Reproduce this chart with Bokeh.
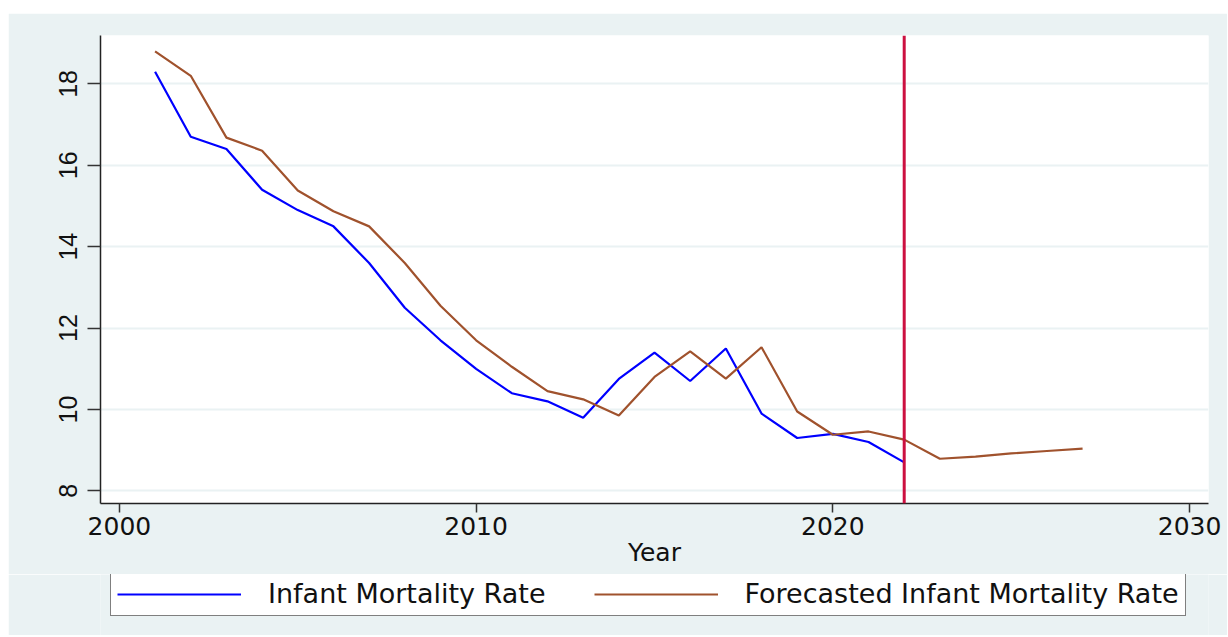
from bokeh.plotting import figure
from bokeh.layouts import column
from bokeh.models import Legend, LegendItem, Span, FixedTicker
from bokeh.embed import file_html
from bokeh.resources import INLINE

years_actual = list(range(2001, 2023))
imr_actual = [18.3, 16.7, 16.4, 15.4, 14.9, 14.5, 13.6, 12.5, 11.7, 11.0, 10.4,
              10.2, 9.8, 10.75, 11.4, 10.7, 11.5, 9.9, 9.3, 9.4, 9.2, 8.7]

years_fc = list(range(2001, 2028))
imr_fc = [18.8, 18.2, 16.68, 16.36, 15.38, 14.87, 14.5, 13.6, 12.55, 11.7, 11.05,
          10.45, 10.25, 9.85, 10.8, 11.43, 10.76, 11.53, 9.95, 9.38, 9.46, 9.26,
          8.79, 8.84, 8.92, 8.98, 9.04]

x_ticks = [2000, 2010, 2020, 2030]
y_ticks = [8, 10, 12, 14, 16, 18]
cutoff_year = 2022
labels = ["Infant Mortality Rate", "Forecasted Infant Mortality Rate"]
colors = ["#0000FF", "#A0522D"]

BG = "#EAF2F3"
FONT = "DejaVu Sans"
W = 1219

p = figure(width=W, height=561, output_backend="svg", toolbar_location=None,
           x_range=(1999.47, 2030.53), y_range=(7.69, 19.19),
           min_border_left=92, min_border_top=22, min_border_right=19,
           min_border_bottom=71,
           background_fill_color="white", border_fill_color=BG,
           outline_line_color=None)

p.xgrid.grid_line_color = None
p.ygrid.grid_line_color = BG
p.ygrid.grid_line_width = 2
p.ygrid.ticker = FixedTicker(ticks=y_ticks)

p.xaxis.ticker = FixedTicker(ticks=x_ticks)
p.yaxis.ticker = FixedTicker(ticks=y_ticks)
for ax in (p.xaxis[0], p.yaxis[0]):
    ax.axis_line_color = "#222222"
    ax.axis_line_width = 1.5
    ax.major_tick_line_color = "#333333"
    ax.major_tick_line_width = 1.5
    ax.minor_tick_line_color = None
    ax.major_tick_in = 0
    ax.major_label_text_color = "#111111"
p.xaxis.major_label_text_font = FONT
p.xaxis.major_label_text_font_size = "25px"
p.yaxis.major_label_text_font = "Liberation Sans"
p.yaxis.major_label_text_font_size = "25px"
p.xaxis.major_tick_out = 9
p.yaxis.major_tick_out = 13
p.yaxis.major_label_orientation = "vertical"
p.yaxis.major_label_standoff = 10
p.xaxis.major_label_standoff = 4
p.xaxis.axis_label = "Year"
p.xaxis.axis_label_text_font = FONT
p.xaxis.axis_label_text_font_size = "25px"
p.xaxis.axis_label_text_font_style = "normal"
p.xaxis.axis_label_text_color = "#111111"
p.xaxis.axis_label_standoff = 0

p.line(years_actual, imr_actual, line_color=colors[0], line_width=2.2)
p.line(years_fc, imr_fc, line_color=colors[1], line_width=2.2)

p.add_layout(Span(location=cutoff_year, dimension="height",
                  line_color="#CC1040", line_width=3))

# legend strip below the chart (series drawn out of view; only the legend shows)
p2 = figure(width=W, height=61, output_backend="svg", toolbar_location=None,
            x_range=(0, 1), y_range=(0, 1),
            x_axis_location=None, y_axis_location=None,
            min_border=0, background_fill_color=BG, border_fill_color=BG,
            outline_line_color=None)
p2.grid.visible = False
lr1 = p2.line(years_actual, imr_actual, line_color=colors[0], line_width=2.2)
lr2 = p2.line(years_fc, imr_fc, line_color=colors[1], line_width=2.2)
legend = Legend(items=[LegendItem(label=labels[0], renderers=[lr1]),
                       LegendItem(label=labels[1], renderers=[lr2])],
                location=(10, 19), orientation="horizontal",
                border_line_color="black", border_line_width=1.5,
                background_fill_color="white", background_fill_alpha=1,
                label_text_font=FONT, label_text_font_size="27px",
                label_text_color="#111111",
                glyph_width=124, glyph_height=20, label_height=20,
                label_standoff=27, spacing=48, padding=6, margin=0)
p2.add_layout(legend, "center")

layout = column(p, p2, spacing=0)
layout.margin = (13, 0, 0, 8)

open("out.html", "w").write(file_html(layout, INLINE))
